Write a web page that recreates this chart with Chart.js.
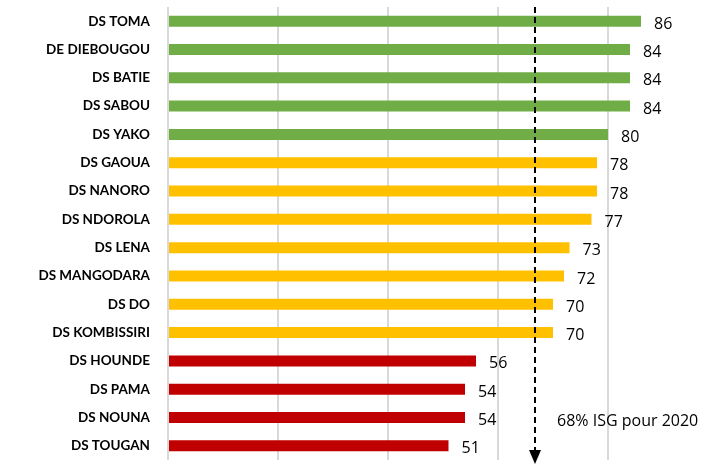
<!DOCTYPE html>
<html>
<head>
<meta charset="utf-8">
<script src="https://cdn.jsdelivr.net/npm/chart.js@4.4.0/dist/chart.umd.min.js"></script>
<style>
  html, body { margin: 0; padding: 0; background: #fff; }
  canvas { display: block; }
</style>
</head>
<body>
<canvas id="c" width="710" height="465"></canvas>
<script>
// data
const districts = ["DS TOMA", "DE DIEBOUGOU", "DS BATIE", "DS SABOU", "DS YAKO",
  "DS GAOUA", "DS NANORO", "DS NDOROLA", "DS LENA", "DS MANGODARA", "DS DO",
  "DS KOMBISSIRI", "DS HOUNDE", "DS PAMA", "DS NOUNA", "DS TOUGAN"];
const isgValues = [86, 84, 84, 84, 80, 78, 78, 77, 73, 72, 70, 70, 56, 54, 54, 51];
const targetLine = 66.7;          // where the dashed line is drawn
const targetLabel = "68% ISG pour 2020";

const GREEN = "#70AD47", ORANGE = "#FFC000", RED = "#C00000";
function barColor(v) {
  if (v >= 80) return GREEN;
  if (v >= 70) return ORANGE;
  return RED;
}

// value labels + dashed target arrow
const overlay = {
  id: "overlay",
  afterDatasetsDraw(chart) {
    const ctx = chart.ctx;
    const xs = chart.scales.x;
    const meta = chart.getDatasetMeta(0);
    ctx.save();
    ctx.fillStyle = "#000";
    ctx.font = "16px 'Open Sans', sans-serif";
    ctx.textAlign = "left";
    ctx.textBaseline = "middle";
    meta.data.forEach((bar, i) => {
      ctx.fillText(String(isgValues[i]), bar.x + 13, bar.y + 3);
    });

    const x = Math.round(xs.getPixelForValue(targetLine));
    ctx.strokeStyle = "#000";
    ctx.lineWidth = 2;
    ctx.setLineDash([6, 4]);
    ctx.beginPath();
    ctx.moveTo(x, 7);
    ctx.lineTo(x, 452);
    ctx.stroke();
    ctx.setLineDash([]);
    ctx.beginPath();
    ctx.moveTo(x - 6, 450);
    ctx.lineTo(x + 6, 450);
    ctx.lineTo(x, 464);
    ctx.closePath();
    ctx.fill();

    ctx.font = "16px 'Open Sans', sans-serif";
    ctx.fillText(targetLabel, x + 22, 421);
    ctx.restore();
  }
};

new Chart(document.getElementById("c"), {
  type: "bar",
  data: {
    labels: districts,
    datasets: [{
      data: isgValues,
      backgroundColor: isgValues.map(barColor),
      categoryPercentage: 1,
      barPercentage: 0.39
    }]
  },
  options: {
    indexAxis: "y",
    responsive: false,
    animation: false,
    layout: { padding: { top: 7, bottom: 5, left: 0, right: 3 } },
    plugins: { legend: { display: false }, tooltip: { enabled: false } },
    scales: {
      x: {
        min: 0,
        max: 98,
        afterBuildTicks(scale) {
          scale.ticks = scale.ticks.filter(t => t.value % 20 === 0);
        },
        afterFit(scale) {
          scale.height = 0;
          scale.paddingLeft = scale.paddingRight = 0;
        },
        ticks: { display: false, stepSize: 20 },
        grid: { color: "#D9D9D9", lineWidth: 2, drawTicks: false },
        border: { display: false }
      },
      y: {
        afterFit(scale) {
          scale.width = 168;
          scale.paddingTop = scale.paddingBottom = 0;
        },
        grid: { display: false, drawTicks: false },
        border: { display: false },
        ticks: {
          color: "#000",
          padding: 18,
          font: { family: "Lato, sans-serif", size: 13.5, weight: "bold" }
        }
      }
    }
  },
  plugins: [overlay]
});
</script>
</body>
</html>
